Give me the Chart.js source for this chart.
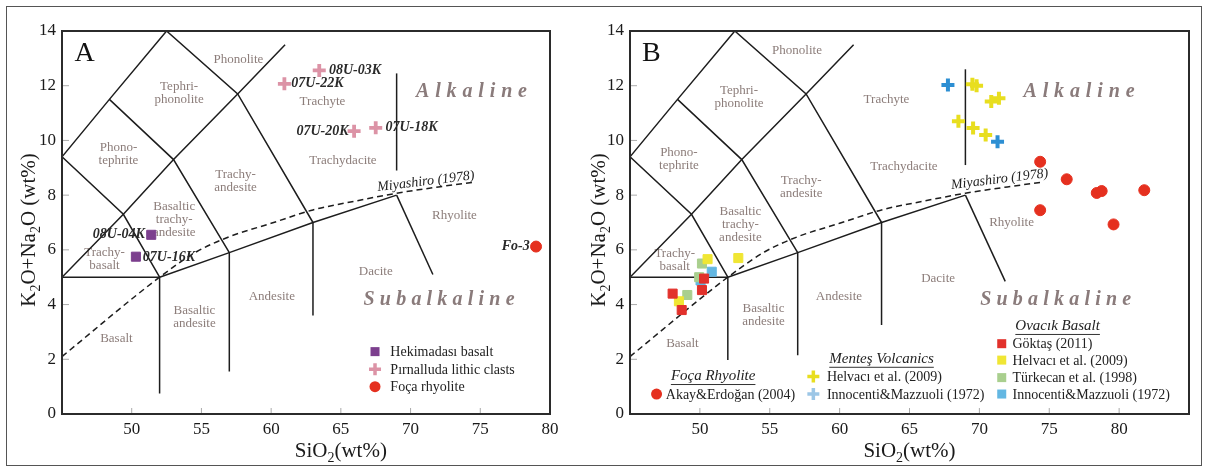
<!DOCTYPE html>
<html>
<head>
<meta charset="utf-8">
<script src="https://cdn.jsdelivr.net/npm/chart.js@4.4.1/dist/chart.umd.min.js"></script>
<style>
  body { margin: 0; background: #fff; }
  #frame { position: absolute; left: 6px; top: 6px; width: 1194px; height: 458px; border: 1.5px solid #555; }
  #wrapA { position: absolute; left: 0; top: 0; }
  #wrapB { position: absolute; left: 585px; top: 0; }
</style>
</head>
<body>
<div id="frame"></div>
<div id="wrapA"><canvas id="chartA" width="585" height="468"></canvas></div>
<div id="wrapB"><canvas id="chartB" width="623" height="468"></canvas></div>
<script>
// ---- panel A samples ----
const hekimX = [51.4, 50.3];
const hekimY = [6.55, 5.75];
const pirnX = [63.45, 60.95, 65.95, 67.5];
const pirnY = [12.56, 12.07, 10.34, 10.46];
const pirnNames = ['08U-03K', '07U-22K', '07U-20K', '07U-18K'];
const hekimNames = ['08U-04K', '07U-16K'];
const focaAX = [79.0];
const focaAY = [6.12];

// ---- panel B samples ----
const focaBX = [74.35, 76.25, 78.4, 78.75, 81.8, 74.35, 79.6];
const focaBY = [9.22, 8.58, 8.08, 8.15, 8.18, 7.45, 6.93];
const mentesHelvX = [69.5, 69.8, 70.85, 71.4, 68.5, 69.55, 70.45];
const mentesHelvY = [12.05, 12.0, 11.42, 11.54, 10.7, 10.45, 10.2];
const mentesInnX = [67.75, 71.3];
const mentesInnY = [12.03, 9.95];
const ovGokX = [48.05, 48.7, 50.15, 50.3];
const ovGokY = [4.4, 3.8, 4.53, 4.95];
const ovHelvX = [48.5, 50.55, 52.75];
const ovHelvY = [4.12, 5.66, 5.7];
const ovTurkX = [49.1, 50.15, 49.95];
const ovTurkY = [4.35, 5.5, 5.0];
const ovInnX = [50.85, 50.05];
const ovInnY = [5.2, 4.88];

// ---- TAS field boundaries (SiO2, total alkali) ----
const tasLines = [
  [[45, 5], [52, 5]],
  [[45, 5], [49.4, 7.3], [53, 9.3], [57.6, 11.7], [61, 13.5]],
  [[45, 9.4], [49.4, 7.3], [52, 5]],
  [[45, 9.4], [48.4, 11.5], [52.5, 14]],
  [[48.4, 11.5], [53, 9.3], [57, 5.9]],
  [[52.5, 14], [57.6, 11.7], [63, 7]],
  [[52, 5], [57, 5.9], [63, 7], [69, 8]]
];
const tasEndsA = [
  [[69, 8], [71.6, 5.1]],
  [[52, 5], [52, 0.75]],
  [[57, 5.9], [57, 1.55]],
  [[63, 7], [63, 3.6]],
  [[69, 8.9], [69, 12.45]]
];
const tasEndsB = [
  [[69, 8], [71.85, 4.85]],
  [[52, 5], [52, 1.97]],
  [[57, 5.9], [57, 2.15]],
  [[63, 7], [63, 3.25]],
  [[69, 9.1], [69, 12.6]]
];
const miyashiro = [[45, 2.1], [52, 5.0], [54.65, 5.93], [57, 6.48], [60, 6.97], [63, 7.46], [66, 7.78], [69, 8.07], [72, 8.3], [74.6, 8.48]];

const xTicks = [50, 55, 60, 65, 70, 75, 80];
const yTicks = [0, 2, 4, 6, 8, 10, 12, 14];

Chart.defaults.font.family = '"Liberation Serif", "Times New Roman", serif';

const pointsOf = (xs, ys) => xs.map((x, i) => ({ x, y: ys[i] }));
const marker = (xs, ys, style, color, r, bw) => ({
  data: pointsOf(xs, ys), pointStyle: style, pointRadius: r,
  backgroundColor: color, borderColor: color, pointBorderWidth: bw, order: 0
});
const poly = (pts, dash) => ({
  data: pts.map(([x, y]) => ({ x, y })), showLine: true, borderColor: '#1d1d1d',
  borderWidth: 1.5, borderDash: dash || [], pointRadius: 0, fill: false,
  cubicInterpolationMode: dash ? 'monotone' : 'default', order: 5
});

function P(c, x, y) { return [c.scales.x.getPixelForValue(x), c.scales.y.getPixelForValue(y)]; }
function multiline(ctx, text, x, y, lh) {
  const lines = text.split('\n');
  const y0 = y - (lines.length - 1) * lh / 2;
  lines.forEach((l, i) => ctx.fillText(l, x, y0 + i * lh));
}
function spacedFit(ctx, text, cx, cy, w) {
  const chars = text.split('');
  const raw = chars.reduce((s, ch) => s + ctx.measureText(ch).width, 0);
  const gap = (w - raw) / (chars.length - 1);
  let x = cx - w / 2;
  ctx.textAlign = 'left';
  chars.forEach(ch => { ctx.fillText(ch, x, cy); x += ctx.measureText(ch).width + gap; });
}
function subText(ctx, parts, size) {
  const big = size + 'px "Liberation Serif", serif', small = Math.round(size * 0.65) + 'px "Liberation Serif", serif';
  let w = 0;
  parts.forEach(([t, s]) => { ctx.font = s ? small : big; w += ctx.measureText(t).width; });
  let x = -w / 2;
  ctx.textAlign = 'left'; ctx.textBaseline = 'alphabetic';
  parts.forEach(([t, s]) => {
    ctx.font = s ? small : big;
    ctx.fillText(t, x, s ? size * 0.55 : size * 0.35);
    x += ctx.measureText(t).width;
  });
}
function drawMark(ctx, style, color, x, y) {
  ctx.save();
  ctx.fillStyle = color; ctx.strokeStyle = color;
  if (style === 'rect') ctx.fillRect(x - 4.5, y - 4.5, 9, 9);
  else if (style === 'circle') { ctx.beginPath(); ctx.arc(x, y, 5.5, 0, Math.PI * 2); ctx.fill(); }
  else { ctx.lineWidth = 3.5; ctx.beginPath(); ctx.moveTo(x - 6, y); ctx.lineTo(x + 6, y); ctx.moveTo(x, y - 6); ctx.lineTo(x, y + 6); ctx.stroke(); }
  ctx.restore();
}

const annotPlugin = {
  id: 'annot',
  beforeDatasetsDraw(chart, args, o) {
    const ctx = chart.ctx;
    ctx.save();
    ctx.fillStyle = '#8c7d7a';
    ctx.font = '13px "Liberation Serif", serif';
    ctx.textAlign = 'center'; ctx.textBaseline = 'middle';
    o.regions.forEach(([t, x, y]) => { const [px, py] = P(chart, x, y); multiline(ctx, t, px, py, 13); });
    ctx.fillStyle = '#8a7b7b';
    ctx.font = 'italic bold 20px "Liberation Serif", serif';
    let [ax, ay] = P(chart, o.alk[0], o.alk[1]);
    spacedFit(ctx, 'Alkaline', ax, ay, 111);
    [ax, ay] = P(chart, o.sub[0], o.sub[1]);
    spacedFit(ctx, 'Subalkaline', ax, ay, 151);
    // Miyashiro label
    const [mx, my] = P(chart, o.miy[0], o.miy[1]);
    ctx.translate(mx, my); ctx.rotate(-7 * Math.PI / 180);
    ctx.fillStyle = '#222'; ctx.font = 'italic 14px "Liberation Serif", serif';
    ctx.textAlign = 'center'; ctx.fillText('Miyashiro (1978)', 0, 0);
    ctx.restore();
  },
  afterDatasetsDraw(chart, args, o) {
    const ctx = chart.ctx, a = chart.chartArea;
    ctx.save();
    // inner ticks
    ctx.strokeStyle = '#aaa'; ctx.lineWidth = 1;
    xTicks.forEach(v => { const x = chart.scales.x.getPixelForValue(v); ctx.beginPath(); ctx.moveTo(x, a.bottom); ctx.lineTo(x, a.bottom - 6); ctx.stroke(); });
    yTicks.forEach(v => { const y = chart.scales.y.getPixelForValue(v); ctx.beginPath(); ctx.moveTo(a.left, y); ctx.lineTo(a.left + 7, y); ctx.stroke(); });
    // plot frame
    ctx.strokeStyle = '#2b2b2b'; ctx.lineWidth = 2;
    ctx.strokeRect(a.left, a.top, a.right - a.left, a.bottom - a.top);
    // panel letter
    ctx.fillStyle = '#111'; ctx.font = '28px "Liberation Serif", serif';
    ctx.textAlign = 'center'; ctx.textBaseline = 'middle';
    const [lx, ly] = P(chart, o.letter[1], o.letter[2]);
    ctx.fillText(o.letter[0], lx, ly);
    // sample labels
    ctx.font = 'italic bold 14px "Liberation Serif", serif';
    ctx.fillStyle = '#2a2a2a';
    (o.samples || []).forEach(([t, x, y, al]) => { const [px, py] = P(chart, x, y); ctx.textAlign = al; ctx.fillText(t, px, py); });
    // legend
    ctx.font = '14px "Liberation Serif", serif'; ctx.textAlign = 'left';
    (o.legend || []).forEach(([style, color, mxv, tx, y, t]) => {
      const [mx, my] = P(chart, mxv, y); drawMark(ctx, style, color, mx, my);
      const [px] = P(chart, tx, y); ctx.fillStyle = '#222'; ctx.fillText(t, px, my + 1);
    });
    ctx.font = 'italic 15px "Liberation Serif", serif'; ctx.textAlign = 'center';
    (o.headers || []).forEach(([t, x, y]) => {
      const [px, py] = P(chart, x, y); ctx.fillText(t, px, py);
      const w = ctx.measureText(t).width;
      ctx.strokeStyle = '#333'; ctx.lineWidth = 1;
      ctx.beginPath(); ctx.moveTo(px - w / 2, py + 8); ctx.lineTo(px + w / 2, py + 8); ctx.stroke();
    });
    // axis titles
    ctx.fillStyle = '#1a1a1a';
    ctx.save();
    ctx.translate(o.yTitleX, 230); ctx.rotate(-Math.PI / 2);
    subText(ctx, [['K', 0], ['2', 1], ['O+Na', 0], ['2', 1], ['O (wt%)', 0]], 21);
    ctx.restore();
    ctx.save();
    ctx.translate(chart.scales.x.getPixelForValue(65), 450);
    subText(ctx, [['SiO', 0], ['2', 1], ['(wt%)', 0]], 21);
    ctx.restore();
    ctx.restore();
  }
};

function makeChart(id, xmax, datasets, annot) {
  return new Chart(document.getElementById(id), {
    type: 'scatter',
    data: { datasets },
    options: {
      responsive: false, animation: false, events: [],
      layout: { padding: annot.pad },
      plugins: { legend: { display: false }, tooltip: { enabled: false }, annot },
      scales: {
        x: {
          type: 'linear', min: 45, max: xmax,
          afterFit: s => { s.height = 54; },
          afterBuildTicks: s => { s.ticks = [45].concat(xTicks, xmax > 80 ? [xmax] : []).map(v => ({ value: v })); },
          grid: { display: false, drawTicks: false }, border: { display: false },
          ticks: { padding: 5, color: '#1a1a1a', font: { size: 17 }, maxRotation: 0, autoSkip: false,
                   callback: v => xTicks.includes(v) ? String(v) : '' }
        },
        y: {
          type: 'linear', min: 0, max: 14,
          afterFit: s => { s.width = annot.yw; },
          afterBuildTicks: s => { s.ticks = yTicks.map(v => ({ value: v })); },
          grid: { display: false, drawTicks: false }, border: { display: false },
          ticks: { padding: 6, color: '#1a1a1a', font: { size: 17 } }
        }
      }
    },
    plugins: [annotPlugin]
  });
}

makeChart('chartA', 80, [
  marker(hekimX, hekimY, 'rect', '#7c3f8e', 6.4, 1),
  marker(pirnX, pirnY, 'cross', '#dc93a6', 6.5, 3.8),
  marker(focaAX, focaAY, 'circle', '#e5301f', 5.5, 1),
  ...tasLines.concat(tasEndsA).map(l => poly(l)),
  poly(miyashiro, [6, 4])
], {
  pad: { left: 0, top: 31, right: 35, bottom: 0 }, yw: 62, yTitleX: 28,
  letter: ['A', 46.63, 13.18],
  alk: [74.37, 11.78], sub: [72.04, 4.17], miy: [71.1, 8.5],
  regions: [
    ['Phonolite', 57.65, 12.94], ['Tephri-\nphonolite', 53.4, 11.72], ['Phono-\ntephrite', 49.05, 9.5],
    ['Trachy-\nandesite', 57.45, 8.52], ['Basaltic\ntrachy-\nandesite', 53.05, 7.09], ['Trachyte', 63.68, 11.41],
    ['Trachydacite', 65.15, 9.25], ['Rhyolite', 73.15, 7.27], ['Dacite', 67.5, 5.2], ['Andesite', 60.05, 4.29],
    ['Basaltic\nandesite', 54.5, 3.56], ['Basalt', 48.9, 2.77], ['Trachy-\nbasalt', 48.05, 5.66]
  ],
  samples: [
    [pirnNames[0], 64.15, 12.56, 'left'], [pirnNames[1], 61.45, 12.07, 'left'],
    [pirnNames[2], 65.55, 10.34, 'right'], [pirnNames[3], 68.2, 10.46, 'left'],
    [hekimNames[0], 50.95, 6.58, 'right'], [hekimNames[1], 50.8, 5.73, 'left'],
    ['Fo-3', 78.55, 6.12, 'right']
  ],
  legend: [
    ['rect', '#7c3f8e', 67.45, 68.55, 2.28, 'Hekimadası basalt'],
    ['cross', '#dc93a6', 67.45, 68.55, 1.64, 'Pırnalluda lithic clasts'],
    ['circle', '#e5301f', 67.45, 68.55, 1.0, 'Foça rhyolite']
  ]
});

makeChart('chartB', 85, [
  marker(ovGokX, ovGokY, 'rect', '#e2312b', 6.4, 1),
  marker(ovHelvX, ovHelvY, 'rect', '#f0e634', 6.4, 1),
  marker(ovTurkX, ovTurkY, 'rect', '#a9cf8e', 6.4, 1),
  marker(ovInnX, ovInnY, 'rect', '#63b7e2', 6.4, 1),
  marker(mentesHelvX, mentesHelvY, 'cross', '#e8de1f', 6.5, 4),
  marker(mentesInnX, mentesInnY, 'cross', '#2d8fd3', 6.5, 4),
  marker(focaBX, focaBY, 'circle', '#e5301f', 5.5, 1),
  ...tasLines.concat(tasEndsB).map(l => poly(l)),
  poly(miyashiro, [6, 4])
], {
  pad: { left: 0, top: 31, right: 19, bottom: 0 }, yw: 45, yTitleX: 13,
  letter: ['B', 46.53, 13.18],
  alk: [77.13, 11.78], sub: [75.46, 4.19], miy: [71.45, 8.58],
  regions: [
    ['Phonolite', 56.95, 13.3], ['Tephri-\nphonolite', 52.8, 11.58], ['Phono-\ntephrite', 48.5, 9.32],
    ['Trachy-\nandesite', 57.25, 8.31], ['Basaltic\ntrachy-\nandesite', 52.9, 6.92], ['Trachyte', 63.35, 11.48],
    ['Trachydacite', 64.6, 9.04], ['Rhyolite', 72.3, 7.0], ['Dacite', 67.05, 4.96], ['Andesite', 59.95, 4.29],
    ['Basaltic\nandesite', 54.55, 3.6], ['Basalt', 48.75, 2.58], ['Trachy-\nbasalt', 48.2, 5.64]
  ],
  headers: [['Foça Rhyolite', 50.95, 1.37], ['Menteş Volcanics', 63.0, 2.0], ['Ovacık Basalt', 75.6, 3.2]],
  legend: [
    ['circle', '#e5301f', 46.9, 47.56, 0.73, 'Akay&Erdoğan (2004)'],
    ['cross', '#e8de1f', 58.12, 59.09, 1.37, 'Helvacı et al. (2009)'],
    ['cross', '#9cc6e6', 58.12, 59.09, 0.73, 'Innocenti&Mazzuoli (1972)'],
    ['rect', '#e2312b', 71.6, 72.37, 2.57, 'Göktaş (2011)'],
    ['rect', '#f0e634', 71.6, 72.37, 1.97, 'Helvacı et al. (2009)'],
    ['rect', '#a9cf8e', 71.6, 72.37, 1.33, 'Türkecan et al. (1998)'],
    ['rect', '#63b7e2', 71.6, 72.37, 0.73, 'Innocenti&Mazzuoli (1972)']
  ]
});
</script>
</body>
</html>
